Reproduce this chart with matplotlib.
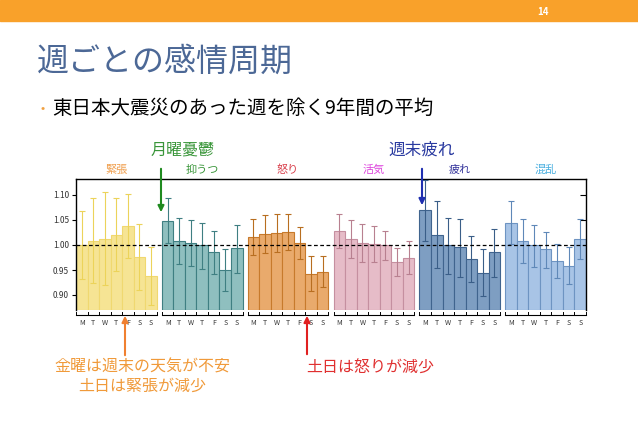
import numpy as np
import matplotlib
matplotlib.use("Agg")
import matplotlib.pyplot as plt
import matplotlib.transforms as mtransforms
from matplotlib.patches import Rectangle

plt.rcParams['font.family'] = ['Noto Sans CJK JP', 'DejaVu Sans']

# データ(各感情の曜日別平均と誤差)
days = ['M', 'T', 'W', 'T', 'F', 'S', 'S']
moods = ['緊張', '抑うつ', '怒り', '活気', '疲れ', '混乱']
tension = [1.000, 1.008, 1.013, 1.020, 1.038, 0.976, 0.938]
tension_err = [0.068, 0.085, 0.092, 0.073, 0.064, 0.066, 0.057]
depression = [1.048, 1.008, 1.005, 0.999, 0.985, 0.950, 0.993]
depression_err = [0.045, 0.047, 0.046, 0.046, 0.043, 0.041, 0.048]
anger = [1.017, 1.023, 1.025, 1.027, 1.005, 0.943, 0.947]
anger_err = [0.036, 0.038, 0.038, 0.036, 0.032, 0.034, 0.030]
vigor = [1.028, 1.013, 1.005, 1.003, 0.999, 0.966, 0.975]
vigor_err = [0.034, 0.038, 0.038, 0.036, 0.030, 0.027, 0.033]
fatigue = [1.069, 1.021, 0.999, 0.995, 0.973, 0.945, 0.985]
fatigue_err = [0.060, 0.066, 0.056, 0.058, 0.046, 0.046, 0.048]
confusion = [1.045, 1.009, 0.999, 0.991, 0.969, 0.959, 1.013]
confusion_err = [0.042, 0.044, 0.042, 0.036, 0.034, 0.036, 0.040]

values = [tension, depression, anger, vigor, fatigue, confusion]
errors = [tension_err, depression_err, anger_err, vigor_err, fatigue_err, confusion_err]

fills = ['#f6e494', '#8fbfbf', '#e9aa6c', '#e6bcc8', '#7e9ec2', '#a8c4e6']
edges = ['#f0d870', '#3f7f82', '#c77a2c', '#c58fa0', '#40648e', '#6e94c2']
errc = ['#ecd35a', '#3f7f82', '#b86e20', '#b88090', '#3a5e88', '#5f88b8']
label_colors = ['#f0a050', '#3a963a', '#d8404c', '#dd44dd', '#35359c', '#4cb0e0']

gap = 0.45

fig = plt.figure(figsize=(6.38, 4.42), dpi=100)
fig.patches.append(Rectangle((0, 1 - 21 / 442), 1, 21 / 442, transform=fig.transFigure,
                             color='#f9a12a', zorder=0))
fig.text(543 / 638, 1 - 12 / 442, '14', color='white', fontsize=7, fontweight='bold',
         ha='center', va='center')
fig.text(37 / 638, 1 - 62 / 442, '週ごとの感情周期', color='#4c6896', fontsize=23,
         ha='left', va='center')
fig.text(43 / 638, 1 - 108 / 442, '•', color='#f0a040', fontsize=9, ha='center', va='center')
fig.text(52 / 638, 1 - 108 / 442, '東日本大震災のあった週を除く9年間の平均', color='black',
         fontsize=14, ha='left', va='center')

ax = fig.add_axes([76 / 638, 1 - 310 / 442, 510 / 638, 131 / 442])
ax.set_ylim(0.87, 1.132)
ax.set_xlim(-0.5, 5 * (7 + gap) + 6.5)

trans = mtransforms.blended_transform_factory(ax.transData, ax.transAxes)
for g, (v, e) in enumerate(zip(values, errors)):
    x = g * (7 + gap) + np.arange(7)
    ax.bar(x, np.array(v) - 0.87, bottom=0.87, width=1.0, color=fills[g],
           edgecolor=edges[g], linewidth=0.8, zorder=2)
    ax.errorbar(x, v, yerr=e, fmt='none', ecolor=errc[g], elinewidth=0.8,
                capsize=2, capthick=0.8, zorder=3)
    # 曜日の目盛り
    left, right = x[0] - 0.5, x[-1] + 0.5
    ax.plot([left, right], [-0.038, -0.038], color='black', lw=0.8,
            transform=trans, clip_on=False)
    for b in np.arange(8) + left:
        ax.plot([b, b], [-0.038, -0.015], color='black', lw=0.7,
                transform=trans, clip_on=False)
    for xi, d in zip(x, days):
        ax.text(xi, -0.1, d, transform=trans, ha='center', va='center',
                fontsize=5, color='#333333')
    ax.text(x[3], 1.07, moods[g], transform=trans, ha='center', va='center',
            fontsize=8, color=label_colors[g])

ax.axhline(1.0, color='black', linestyle=(0, (3, 2)), lw=0.9, zorder=4)

ax.set_yticks([0.90, 0.95, 1.00, 1.05, 1.10])
ax.set_yticklabels(['0.90', '0.95', '1.00', '1.05', '1.10'])
ax.tick_params(axis='y', labelsize=6, length=3, width=0.8, direction='out', pad=2,
               labelcolor='#333333')
ax.tick_params(axis='y', which='both', right=True, labelright=False)
ax.set_xticks([])
ax.spines['bottom'].set_visible(False)
for s in ['top', 'left', 'right']:
    ax.spines[s].set_linewidth(1.0)
ax.spines['left'].set_zorder(5)

# 右側の目盛りは内向き
for tl in ax.yaxis.get_ticklines()[1::2]:
    tl.set_marker(0)
    tl.set_markersize(4)

# 注釈
fig.text(183 / 638, 1 - 150 / 442, '月曜憂鬱', color='#3a963a', fontsize=11.5,
         ha='center', va='center')
fig.text(422 / 638, 1 - 150 / 442, '週末疲れ', color='#2a3aa0', fontsize=12,
         ha='center', va='center')
ax.annotate('', xy=(161 / 638, 1 - 215 / 442), xytext=(161 / 638, 1 - 166 / 442),
            xycoords='figure fraction', textcoords='figure fraction',
            arrowprops=dict(arrowstyle='-|>', color='#1f8a1f', lw=1.5, mutation_scale=9))
ax.annotate('', xy=(422 / 638, 1 - 208 / 442), xytext=(422 / 638, 1 - 166 / 442),
            xycoords='figure fraction', textcoords='figure fraction',
            arrowprops=dict(arrowstyle='-|>', color='#1f2fb0', lw=1.5, mutation_scale=9))
ax.annotate('', xy=(125 / 638, 1 - 313 / 442), xytext=(125 / 638, 1 - 358 / 442),
            xycoords='figure fraction', textcoords='figure fraction',
            arrowprops=dict(arrowstyle='-|>', color='#f08030', lw=1.5, mutation_scale=9))
ax.annotate('', xy=(307 / 638, 1 - 313 / 442), xytext=(307 / 638, 1 - 357 / 442),
            xycoords='figure fraction', textcoords='figure fraction',
            arrowprops=dict(arrowstyle='-|>', color='#e02020', lw=1.5, mutation_scale=9))
fig.text(142 / 638, 1 - 377 / 442, '金曜は週末の天気が不安\n土日は緊張が減少', color='#f09a3a',
         fontsize=11.5, ha='center', va='center', linespacing=1.15)
fig.text(370 / 638, 1 - 368 / 442, '土日は怒りが減少', color='#e03030', fontsize=11.5,
         ha='center', va='center')

fig.savefig('out.png', dpi=100)
